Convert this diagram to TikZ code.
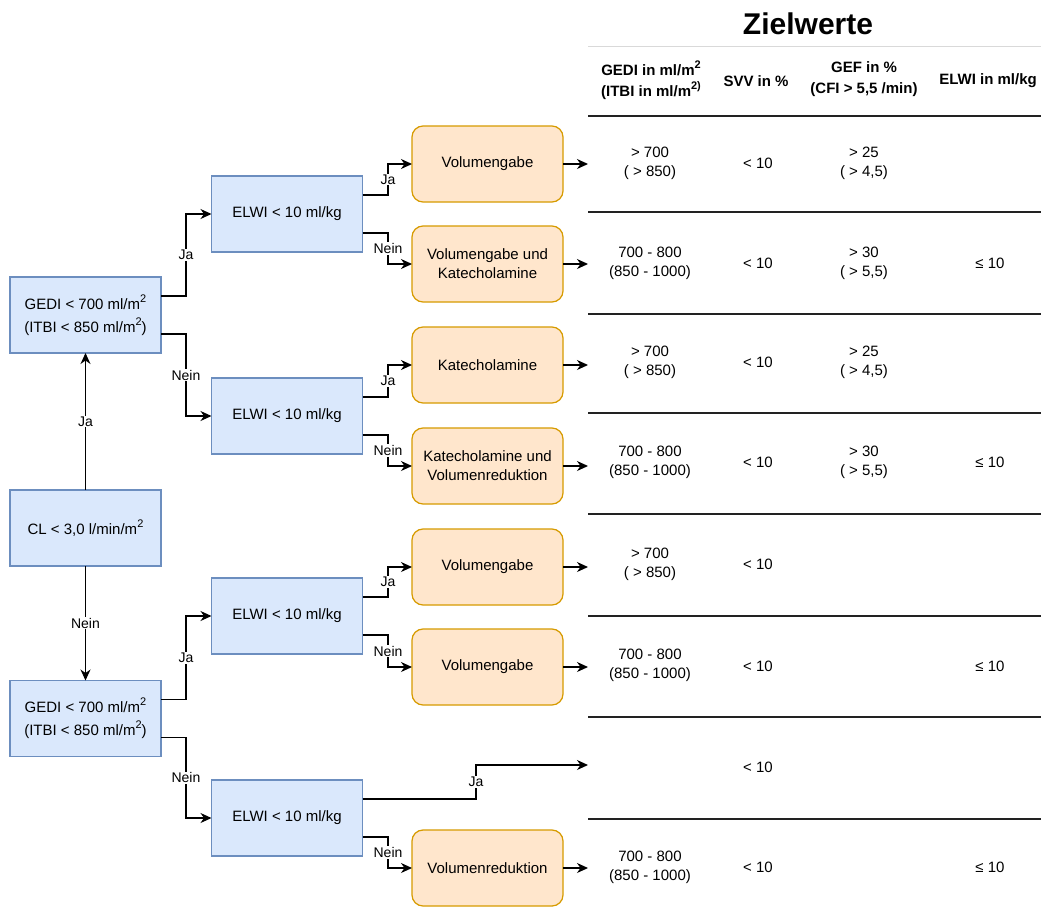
\documentclass[tikz,border=0pt]{standalone}
\usepackage{fontspec}
\setmainfont{Liberation Sans}
\usetikzlibrary{arrows.meta,calc}
\definecolor{bluefill}{HTML}{DAE8FC}
\definecolor{bluedraw}{HTML}{6C8EBF}
\definecolor{orfill}{HTML}{FFE6CC}
\definecolor{ordraw}{HTML}{D79B00}
\definecolor{tgray}{HTML}{222222}
\newcommand{\sups}[1]{\raisebox{0.45em}{\fontsize{11}{11}\selectfont #1}}
\begin{document}
\begin{tikzpicture}[x=1pt,y=-1pt,
  cond/.style={draw=bluedraw,fill=bluefill,line width=1.25pt,minimum width=151pt,minimum height=76pt,inner sep=0pt,outer sep=0pt,align=center,font=\fontsize{15}{23}\selectfont},
  act/.style={draw=ordraw,fill=orfill,line width=1.25pt,rounded corners=11pt,minimum width=151pt,minimum height=76pt,inner sep=0pt,outer sep=0pt,align=center,font=\fontsize{15}{19}\selectfont},
  arr/.style={-{Stealth[length=11pt,width=10pt,inset=3.5pt]},line width=1.25pt},
  lbl/.style={fill=white,inner sep=1pt,font=\fontsize{14}{16}\selectfont},
  val/.style={align=center,inner sep=0pt,font=\fontsize{15}{19}\selectfont},
  hdr/.style={align=center,inner sep=0pt,font=\bfseries\fontsize{15}{21}\selectfont},
  tline/.style={draw=tgray,line width=1.3pt}
]
\useasboundingbox[fill=white] (0,0) rectangle (1041,913);

% decision boxes
\node[cond] (cl) at (85.5,528) {CL < 3,0 l/min/m\sups{2}};
\node[cond] (g1) at (85.5,315) {GEDI < 700 ml/m\sups{2}\\(ITBI < 850 ml/m\sups{2})};
\node[cond] (g2) at (85.5,718.5) {GEDI < 700 ml/m\sups{2}\\(ITBI < 850 ml/m\sups{2})};
\node[cond] (e1) at (287,214) {ELWI < 10 ml/kg};
\node[cond] (e2) at (287,416) {ELWI < 10 ml/kg};
\node[cond] (e3) at (287,616) {ELWI < 10 ml/kg};
\node[cond] (e4) at (287,818) {ELWI < 10 ml/kg};

% action boxes
\node[act] (a1) at (487.5,164) {Volumengabe};
\node[act] (a2) at (487.5,264) {Volumengabe und\\Katecholamine};
\node[act] (a3) at (487.5,365) {Katecholamine};
\node[act] (a4) at (487.5,466) {Katecholamine und\\Volumenreduktion};
\node[act] (a5) at (487.5,567) {Volumengabe};
\node[act] (a6) at (487.5,667) {Volumengabe};
\node[act] (a7) at (487.5,868) {Volumenreduktion};

% free ends at the table
\coordinate (t1) at (588,164);
\coordinate (t2) at (588,264);
\coordinate (t3) at (588,365);
\coordinate (t4) at (588,466);
\coordinate (t5) at (588,567);
\coordinate (t6) at (588,667);
\coordinate (t7) at (588,765);
\coordinate (t8) at (588,868);

% connectors
\draw[arr] (cl.north) -- node[lbl]{Ja} (g1.south);
\draw[arr] (cl.south) -- node[lbl]{Nein} (g2.north);

\draw[arr] ($(g1.north east)!0.25!(g1.south east)$) -- ++(25,0) |- node[lbl,pos=0.25]{Ja} (e1.west);
\draw[arr] ($(g1.north east)!0.75!(g1.south east)$) -- ++(25,0) |- node[lbl,pos=0.25]{Nein} (e2.west);
\draw[arr] ($(g2.north east)!0.25!(g2.south east)$) -- ++(25,0) |- node[lbl,pos=0.25]{Ja} (e3.west);
\draw[arr] ($(g2.north east)!0.75!(g2.south east)$) -- ++(25,0) |- node[lbl,pos=0.25]{Nein} (e4.west);

\draw[arr] ($(e1.north east)!0.25!(e1.south east)$) -- ++(25.5,0) |- node[lbl,pos=0.25]{Ja} (a1.west);
\draw[arr] ($(e1.north east)!0.75!(e1.south east)$) -- ++(25.5,0) |- node[lbl,pos=0.25]{Nein} (a2.west);
\draw[arr] ($(e2.north east)!0.25!(e2.south east)$) -- ++(25.5,0) |- node[lbl,pos=0.25]{Ja} (a3.west);
\draw[arr] ($(e2.north east)!0.75!(e2.south east)$) -- ++(25.5,0) |- node[lbl,pos=0.25]{Nein} (a4.west);
\draw[arr] ($(e3.north east)!0.25!(e3.south east)$) -- ++(25.5,0) |- node[lbl,pos=0.25]{Ja} (a5.west);
\draw[arr] ($(e3.north east)!0.75!(e3.south east)$) -- ++(25.5,0) |- node[lbl,pos=0.25]{Nein} (a6.west);
\draw[arr] ($(e4.north east)!0.25!(e4.south east)$) -- ++(113.5,0) |- node[lbl,pos=0.25]{Ja} (t7);
\draw[arr] ($(e4.north east)!0.75!(e4.south east)$) -- ++(25.5,0) |- node[lbl,pos=0.25]{Nein} (a7.west);

\draw[arr] (a1.east) -- (t1);
\draw[arr] (a2.east) -- (t2);
\draw[arr] (a3.east) -- (t3);
\draw[arr] (a4.east) -- (t4);
\draw[arr] (a5.east) -- (t5);
\draw[arr] (a6.east) -- (t6);
\draw[arr] (a7.east) -- (t8);

% table
\node[inner sep=0pt,font=\bfseries\fontsize{30}{34}\selectfont] (title) at (808,24) {Zielwerte};
\draw[draw=black!15,line width=1pt] (588,46) -- (1041,46);
\node[hdr] (h1) at (651,80) {GEDI in ml/m\sups{2}\\(ITBI in ml/m\sups{2)}};
\node[hdr] (h2) at (756,81) {SVV in \%};
\node[hdr] (h3) at (864,79) {GEF in \%\\(CFI > 5,5 /min)};
\node[hdr] (h4) at (988,81) {ELWI in ml/kg};
\draw[tline] (588,116) -- (1041,116);
\foreach \yy in {212,314,413,514,616,717,819} {\draw[tline] (588,\yy) -- (1041,\yy);}

% row 1
\node[val] at (650,163) {> 700\\( > 850)};
\node[val] at (758,163.5) {< 10};
\node[val] at (864,163) {> 25\\( > 4,5)};
% row 2
\node[val] at (650,263) {700 - 800\\(850 - 1000)};
\node[val] at (758,263.5) {< 10};
\node[val] at (864,263) {> 30\\( > 5,5)};
\node[val] at (990,263.5) {≤ 10};
% row 3
\node[val] at (650,362) {> 700\\( > 850)};
\node[val] at (758,362) {< 10};
\node[val] at (864,362) {> 25\\( > 4,5)};
% row 4
\node[val] at (650,462) {700 - 800\\(850 - 1000)};
\node[val] at (758,462) {< 10};
\node[val] at (864,462) {> 30\\( > 5,5)};
\node[val] at (990,462) {≤ 10};
% row 5
\node[val] at (650,564) {> 700\\( > 850)};
\node[val] at (758,564) {< 10};
% row 6
\node[val] at (650,665) {700 - 800\\(850 - 1000)};
\node[val] at (758,666) {< 10};
\node[val] at (990,666) {≤ 10};
% row 7
\node[val] at (758,767) {< 10};
% row 8
\node[val] at (650,867) {700 - 800\\(850 - 1000)};
\node[val] at (758,867) {< 10};
\node[val] at (990,867) {≤ 10};
\end{tikzpicture}
\end{document}
